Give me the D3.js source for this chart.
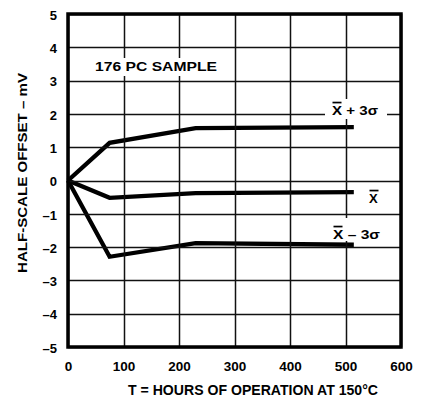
<!DOCTYPE html>
<html><head><meta charset="utf-8">
<script src="https://cdn.jsdelivr.net/npm/d3@7"></script>
<style>
html,body{margin:0;padding:0;background:#fff;}
text{font-family:"Liberation Sans",Arial,Helvetica,sans-serif;font-weight:bold;fill:#000;}
</style></head>
<body><svg id="c" width="423" height="400"></svg>
<script>
const hours = [0, 75, 230, 515];
const plus3Sigma = [0, 1.13, 1.57, 1.6];
const meanValues = [0, -0.52, -0.38, -0.35];
const minus3Sigma = [0, -2.29, -1.88, -1.93];
const xTicks = [0, 100, 200, 300, 400, 500, 600];
const yTicks = [5, 4, 3, 2, 1, 0, -1, -2, -3, -4, -5];

const svg = d3.select("#c");
const L = 68, R = 401, T = 14, B = 347;
const xs = d3.scaleLinear().domain([0, 600]).range([L, R]);
const ys = d3.scaleLinear().domain([-5, 5]).range([B, T]);

// series (drawn first)
const series = [plus3Sigma, meanValues, minus3Sigma];
const lineGen = d3.line().x((d, i) => xs(hours[i])).y(d => ys(d));
series.forEach(s => {
  svg.append("path").attr("d", lineGen(s)).attr("fill", "none").attr("stroke", "#000")
    .attr("stroke-width", 4.3).attr("stroke-linejoin", "miter");
});

// grid on top
const gridG = svg.append("g");
gridG.selectAll("line.gx").data(xTicks).join("line").attr("class", "gx")
  .attr("x1", d => Math.round(xs(d)) + 0.5).attr("x2", d => Math.round(xs(d)) + 0.5)
  .attr("y1", T).attr("y2", B).attr("stroke", "#111").attr("stroke-width", 1.5);
gridG.selectAll("line.gy").data(yTicks).join("line").attr("class", "gy")
  .attr("x1", L).attr("x2", R)
  .attr("y1", d => Math.round(ys(d)) + 0.5).attr("y2", d => Math.round(ys(d)) + 0.5)
  .attr("stroke", "#111").attr("stroke-width", 1.5);

// frame
svg.append("rect").attr("x", L).attr("y", T).attr("width", R - L).attr("height", B - T)
  .attr("fill", "none").attr("stroke", "#000").attr("stroke-width", 3.5);

// label background boxes
function box(x0, y0, w, h) {
  svg.append("rect").attr("x", x0).attr("y", y0).attr("width", w).attr("height", h).attr("fill", "#fff");
}
box(90, 58, 132, 18);
box(325, 99, 62, 20);
box(327, 218, 60, 23);

// axes labels
const fmt = d => d < 0 ? "\u2013" + Math.abs(d) : String(d);
const ya = svg.append("g").attr("transform", `translate(${L},0)`)
  .call(d3.axisLeft(ys).tickValues(yTicks).tickSize(0).tickPadding(11).tickFormat(fmt));
ya.select(".domain").remove();
ya.selectAll("text").attr("font-size", 13).attr("font-family", "Liberation Sans, Arial, sans-serif").attr("font-weight", "bold").attr("dy", "0.4em");
const xa = svg.append("g").attr("transform", `translate(0,${B})`)
  .call(d3.axisBottom(xs).tickValues(xTicks).tickSize(0).tickPadding(14).tickFormat(d3.format("d")));
xa.select(".domain").remove();
xa.selectAll("text").attr("font-size", 13.5).attr("font-family", "Liberation Sans, Arial, sans-serif").attr("font-weight", "bold");

// titles
svg.append("text").attr("x", 95).attr("y", 71).attr("font-size", 13)
  .attr("textLength", 122).attr("lengthAdjust", "spacingAndGlyphs").text("176 PC SAMPLE");
svg.append("text").attr("x", 253).attr("y", 395).attr("font-size", 14).attr("text-anchor", "middle")
  .attr("textLength", 250).attr("lengthAdjust", "spacingAndGlyphs").text("T = HOURS OF OPERATION AT 150\u00B0C");
svg.append("text").attr("transform", "translate(27,173) rotate(-90)").attr("font-size", 13.5)
  .attr("text-anchor", "middle").attr("textLength", 200).attr("lengthAdjust", "spacingAndGlyphs")
  .text("HALF-SCALE OFFSET \u2013 mV");

// series labels with overbar X
function xbarLabel(x0, base, rest, len) {
  const t = svg.append("text").attr("x", x0).attr("y", base).attr("font-size", 13);
  if (rest) {
    t.attr("textLength", len).attr("lengthAdjust", "spacingAndGlyphs").text("X" + rest);
  } else {
    t.text("X");
  }
  svg.append("rect").attr("x", x0 + 0.5).attr("y", base - 13.3).attr("width", 9).attr("height", 1.7).attr("fill", "#000");
}
xbarLabel(332, 115, " + 3\u03C3", 46);
xbarLabel(369, 203, null);
xbarLabel(333, 239, " \u2013 3\u03C3", 47);
</script></body></html>
